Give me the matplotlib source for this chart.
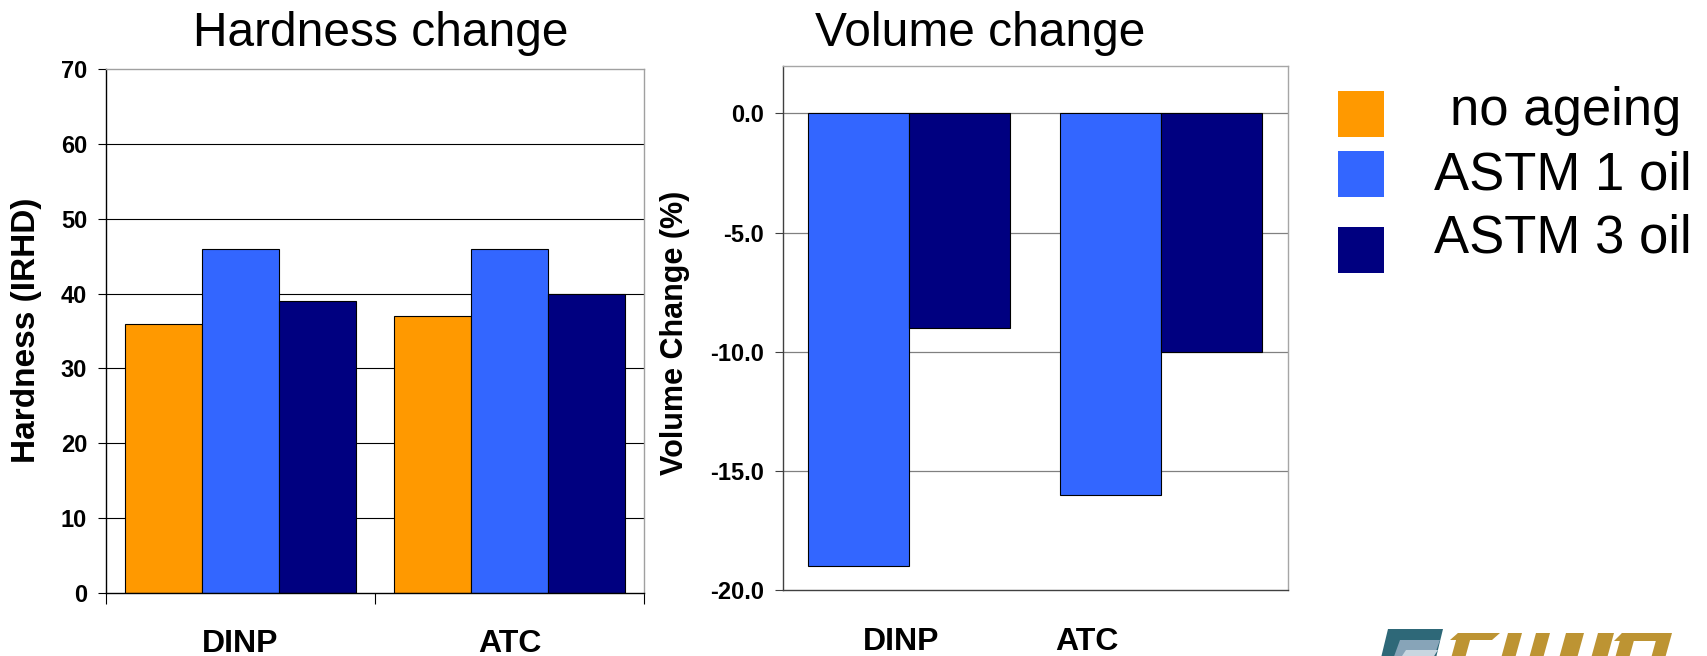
import matplotlib
matplotlib.use("Agg")
import matplotlib.pyplot as plt
from matplotlib.patches import Rectangle, Polygon
import numpy as np

plt.rcParams['font.family'] = ['Liberation Sans', 'DejaVu Sans']

# ---------------- data ----------------
categories = ["DINP", "ATC"]
series_names = ["no ageing", "ASTM 1 oil", "ASTM 3 oil"]
series_colors = ["#FF9900", "#3366FF", "#000080"]

hardness_no_ageing = [36, 37]
hardness_astm1 = [46, 46]
hardness_astm3 = [39, 40]

volume_astm1 = [-19.0, -16.0]
volume_astm3 = [-9.0, -10.0]

hardness_ticks = [0, 10, 20, 30, 40, 50, 60, 70]
volume_ticks = [0.0, -5.0, -10.0, -15.0, -20.0]

W, H = 1707, 656
fig = plt.figure(figsize=(W / 100, H / 100), dpi=100)


def fx(px):
    return px / W


def fy(py):
    return 1 - py / H


TICK_FS = 17

# ---------------- left chart: hardness ----------------
axL = fig.add_axes([fx(106), fy(593), fx(644.3) - fx(106), fy(69) - fy(593)])
x = np.arange(len(categories))
wL = 1 / 3.5
hard_series = [hardness_no_ageing, hardness_astm1, hardness_astm3]
for i, vals in enumerate(hard_series):
    axL.bar(x + (i - 1) * wL, vals, width=wL, color=series_colors[i],
            edgecolor="black", linewidth=0.8, zorder=3)
axL.set_xlim(-0.5, len(categories) - 0.5)
axL.set_ylim(0, 70)
axL.set_yticks(hardness_ticks)
axL.set_yticklabels([str(t) for t in hardness_ticks], fontsize=TICK_FS, fontweight="bold")
axL.tick_params(axis="y", direction="out", length=5.5, width=0.8, pad=8, color="black")
for t in hardness_ticks[1:-1]:
    axL.axhline(t, color="black", linewidth=0.8, zorder=1)
axL.set_xticks(x)
axL.set_xticklabels(categories, fontsize=23, fontweight="bold")
axL.tick_params(axis="x", which="major", length=0, pad=26)
axL.set_xticks(np.arange(-0.5, len(categories)), minor=True)
axL.tick_params(axis="x", which="minor", direction="out", length=8, width=0.8, color="black")
axL.spines["left"].set_color("black")
axL.spines["bottom"].set_color("black")
axL.spines["top"].set_color("#A0A0A0")
axL.spines["right"].set_color("#A0A0A0")
for s in axL.spines.values():
    s.set_linewidth(1.0)
    s.set_zorder(4)

fig.text(fx(381), fy(45.7), "Hardness change", fontsize=34.5, ha="center", va="baseline")
fig.text(fx(27), fy(330.5), "Hardness (IRHD)", fontsize=24, fontweight="bold",
         rotation=90, ha="center", va="center")

# ---------------- right chart: volume ----------------
axR = fig.add_axes([fx(782.7), fy(590), fx(1287.7) - fx(782.7), fy(65.7) - fy(590)])
wR = 0.4
vol_series = [volume_astm1, volume_astm3]
for i, vals in enumerate(vol_series):
    axR.bar(x + (i - 0.5) * wR, vals, width=wR, color=series_colors[i + 1],
            edgecolor="black", linewidth=0.8, zorder=3)
axR.set_xlim(-0.5, len(categories) - 0.5)
axR.set_ylim(-20, 2)
axR.set_yticks(volume_ticks)
axR.set_yticklabels([f"{t:.1f}" for t in volume_ticks], fontsize=TICK_FS, fontweight="bold")
axR.tick_params(axis="y", direction="out", length=5.5, width=0.8, pad=8, color="#404040")
for t in volume_ticks[:-1]:
    axR.axhline(t, color="#808080", linewidth=0.9, zorder=1)
axR.set_xticks([])
axR.spines["left"].set_color("#404040")
axR.spines["bottom"].set_color("#404040")
axR.spines["top"].set_color("#A6A6A6")
axR.spines["right"].set_color("#A6A6A6")
for s in axR.spines.values():
    s.set_linewidth(1.0)
    s.set_zorder(4)

# category labels (offset text boxes, as in the original slide)
right_label_x = [901, 1086.5]
for lab, px in zip(categories, right_label_x):
    fig.text(fx(px), fy(627), lab, fontsize=23, fontweight="bold", ha="center", va="top")

fig.text(fx(980), fy(45.7), "Volume change", fontsize=34.5, ha="center", va="baseline")
fig.text(fx(675), fy(333), "Volume Change (%)", fontsize=22, fontweight="bold",
         rotation=90, ha="center", va="center")

# ---------------- legend ----------------
sq_top = [91, 151, 226.7]
txt_base = [125, 189, 252.7]
txt_left = [1450, 1434, 1434]
for i, name in enumerate(series_names):
    fig.patches.append(Rectangle((fx(1338), fy(sq_top[i] + 46)), fx(46), 46 / H,
                                 transform=fig.transFigure, facecolor=series_colors[i],
                                 edgecolor="none"))
    fig.text(fx(txt_left[i]), fy(txt_base[i]), name, fontsize=37.9,
             ha="left", va="baseline")

# ---------------- partial logo (decoration, cut by the bottom edge) ----------------
def para(x0, x1, top, bottom, color, skew=8):
    pts = [(fx(x0), fy(bottom)), (fx(x0 + skew), fy(top)),
           (fx(x1 + skew), fy(top)), (fx(x1), fy(bottom))]
    fig.patches.append(Polygon(pts, closed=True, transform=fig.transFigure,
                               facecolor=color, edgecolor="none"))

para(1380, 1435, 629, 662, "#2E6878")
para(1392, 1432, 640, 662, "#87A4B8")
para(1398, 1430, 650, 662, "#C8D6E0")
gold = "#BD9433"
para(1450, 1492, 633, 640, gold)
para(1450, 1464, 633, 662, gold)
para(1500, 1514, 633, 662, gold)
para(1528, 1542, 633, 662, gold)
para(1558, 1576, 633, 662, gold)
para(1590, 1606, 633, 662, gold)
para(1614, 1660, 633, 641, gold)
para(1614, 1628, 633, 662, gold)
para(1650, 1664, 633, 662, gold)

fig.savefig("out.png", dpi=100)
